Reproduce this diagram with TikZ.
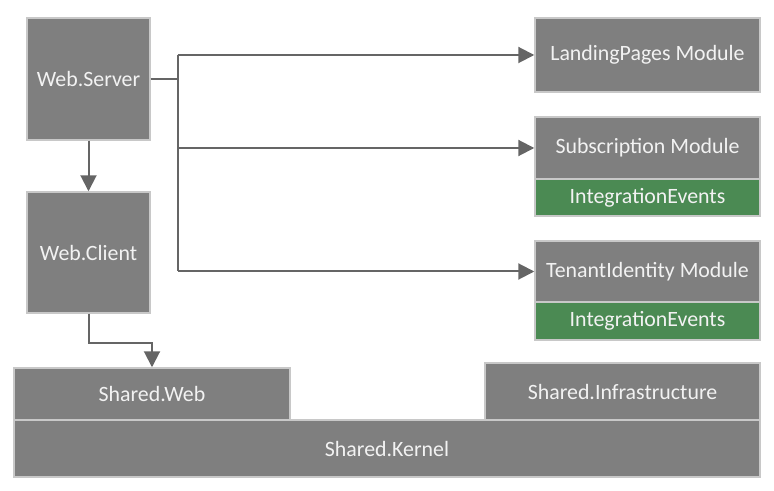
\documentclass[tikz,border=0pt]{standalone}
\usepackage{fontspec}
\setmainfont{Carlito}
\usetikzlibrary{arrows.meta,positioning}

\definecolor{boxgray}{HTML}{7F7F7F}
\definecolor{boxline}{HTML}{C8C8C8}
\definecolor{evgreen}{HTML}{4B8A53}
\definecolor{linegray}{HTML}{656565}

% one pixel of the drawing
\newcommand{\px}[1]{#1*0.75pt}
\newcommand{\ModW}{\px{225}}
\newcommand{\WebW}{\px{123}}

\tikzset{
    box/.style={draw=boxline, line width=1.1pt, fill=boxgray, text=white!95!black,
        inner sep=0pt, font=\fontsize{16.4}{19}\selectfont},
    evbox/.style={box, fill=evgreen},
    conn/.style={draw=linegray, line width=1.5pt},
    arr/.style={conn, -{Triangle[length=12pt,width=12pt]}},
}

\begin{document}
\begin{tikzpicture}[x=0.75pt,y=-0.75pt]
    \useasboundingbox (0,0) rectangle (774,491);

    % web projects
    \node[box, minimum width=\WebW, minimum height=\px{122}] (server) at (88.5,79) {Web.Server};
    \node[box, minimum width=\WebW, minimum height=\px{121}] (client) at (88.5,252.5) {Web.Client};

    % modules
    \node[box, minimum width=\ModW, minimum height=\px{74}] (landing) at (647.5,55) {LandingPages Module};
    \node[box, minimum width=\ModW, minimum height=\px{62}] (subs) at (647.5,148) {Subscription Module};
    \node[evbox, minimum width=\ModW, minimum height=\px{37}] (subsev) at (647.5,197.5) {IntegrationEvents};
    \node[box, minimum width=\ModW, minimum height=\px{61}] (tenant) at (647.5,271.5) {TenantIdentity Module};
    \node[evbox, minimum width=\ModW, minimum height=\px{38}] (tenantev) at (647.5,321) {IntegrationEvents};

    % shared layer
    \node[box, minimum width=\px{276}, minimum height=\px{52}] (sweb) at (152,394) {Shared.Web};
    \node[box, minimum width=\px{275}, minimum height=\px{57}] (sinfra) at (622.5,391.5) {Shared.Infrastructure};
    \node[box, minimum width=\px{746}, minimum height=\px{57}] (kernel) at (387,448.5) {Shared.Kernel};

    \draw[arr] (server.south) -- (client.north);
    \draw[conn] (server.east) -- ++(27,0) coordinate (bus);
    \draw[conn] (bus |- landing.west) -- (bus |- tenant.west);
    \draw[arr] (bus |- landing.west) -- (landing.west);
    \draw[arr] (bus |- subs.west) -- (subs.west);
    \draw[arr] (bus |- tenant.west) -- (tenant.west);
    \draw[arr] (client.south) -- ++(0,29) -| (sweb.north);
\end{tikzpicture}
\end{document}
